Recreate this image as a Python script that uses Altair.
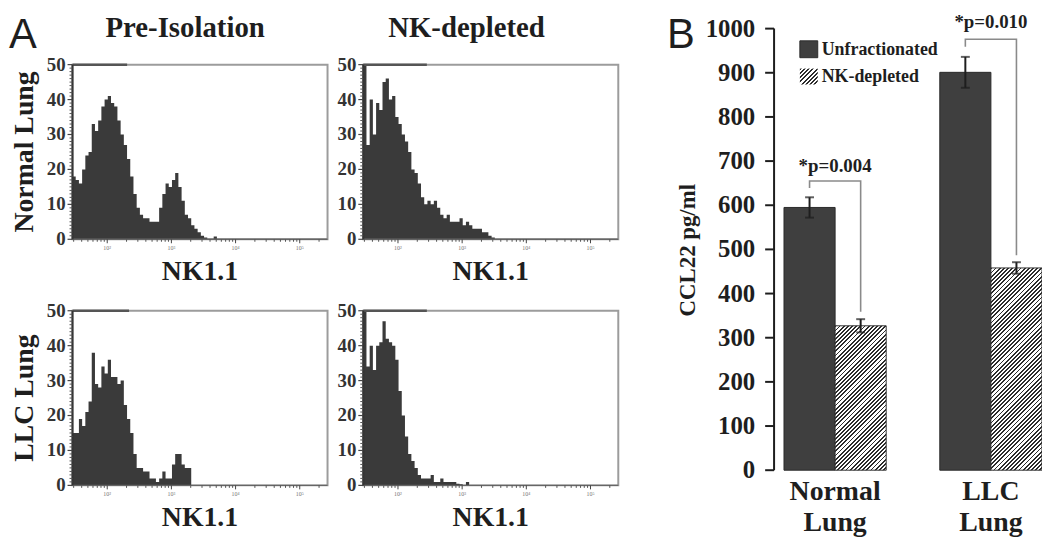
import altair as alt
import pandas as pd

# ------------------------------------------------------------------ data
# Panel A: NK1.1 flow histograms (events per bin). Bins are 0.05 decade wide,
# starting at the left edge of the NK1.1 axis.
NK_LOG_START = 1.459
NK_LOG_END = 5.433
NK_BIN_DECADES = 0.05

normal_pre_isolation = [18, 17, 16, 20, 24, 25, 33, 31, 34, 38, 40, 41, 39, 38, 34, 30,
                        27, 23, 18, 13, 9, 7, 6, 6, 5, 5, 5, 9, 13, 16, 15, 17, 19, 15,
                        11, 7, 6, 4, 3, 2, 1, 0.5, 0, 0, 0.8, 0]
normal_nk_depleted = [50, 27, 40, 30, 39, 37, 45, 46, 40, 41, 35, 33, 30, 28, 25, 20,
                      19, 16, 12, 10, 11, 10, 11, 9, 7, 6, 7, 5, 5, 5, 6, 4, 5, 4, 3,
                      3, 3, 2, 2, 1, 0.5, 0]
llc_pre_isolation = [15, 15, 19, 17, 21, 24, 38, 29, 28, 34, 32, 36, 31, 31, 29, 30,
                     23, 19, 15, 9, 5, 5, 4, 4, 2, 2, 1, 2, 4, 2, 2, 6, 9, 9, 6, 5, 5, 0]
llc_nk_depleted = [50, 34, 40, 33, 40, 41, 47, 42, 41, 40, 36, 27, 20, 14, 9, 7, 5, 3,
                   2, 2, 2, 3, 1, 1, 2, 1, 1, 1, 1, 0.5, 0.3, 0, 1, 0]
# dark marker along the top edge of each histogram frame (log10 NK1.1 end)
top_marker_end = [2.31, 2.45, 2.34, 2.45]

nk_ticks = [30, 40, 50, 60, 70, 80, 90,
            100, 200, 300, 400, 500, 600, 700, 800, 900,
            1000, 2000, 3000, 4000, 5000, 6000, 7000, 8000, 9000,
            10000, 20000, 30000, 40000, 50000, 60000, 70000, 80000, 90000,
            100000, 200000]
nk_major_ticks = [100, 1000, 10000, 100000]
nk_major_labels = ["10²", "10³", "10⁴", "10⁵"]
events_ticks = list(range(0, 51))
events_major = [0, 10, 20, 30, 40, 50]

col_titles = ["Pre-Isolation", "NK-depleted"]
row_titles = ["Normal Lung", "LLC Lung"]
x_title_a = "NK1.1"

# Panel B: CCL22 (pg/ml)
groups = ["Normal Lung", "LLC Lung"]
series = ["Unfractionated", "NK-depleted"]
ccl22_unfractionated = [595, 901]
ccl22_nk_depleted = [327, 458]
sem_unfractionated = [23, 35]
sem_nk_depleted = [15, 13]
bracket_top = [655, 976]
bracket_left_end = [639, 959]
bracket_right_end = [359, 487]
p_text = ["*p=0.004", "*p=0.010"]
p_text_y = [689, 1015]
ccl22_ticks = list(range(0, 1001, 100))
y_title_b = "CCL22 pg/ml"

# ------------------------------------------------------------------ style / layout
W, H = 1042, 536
SERIF = "Liberation Serif"
SANS = "Liberation Sans"
INK = "#1e1e1e"
HIST_FILL = "#3a3a3a"
BAR_DARK = "#3f3f3f"
FRAME = "#9c9c9c"

HIST_X = [(65, 322), (358, 615)]
HIST_Y = [(231, 55), (479, 303)]
B_X_RANGE = [772, 1052]
B_Y_RANGE = [463.7, 18.7]
B_PAD_INNER = 0.344
B_PAD_OUTER = 0.0637

one = pd.DataFrame({"k": [0]})


def hatch(w, h, period=4.2, frac=0.45, dark="#2c2c2c", light="#ffffff"):
    r = h / w
    total = w * (1 + r * r)
    dt = period / total
    t_end = (w + h) / total + dt
    stops = []
    k = 0
    while k * dt <= min(t_end, 1.0):
        t0 = k * dt
        t1 = min(t0 + frac * dt, 1.0)
        t2 = min(t0 + dt, 1.0)
        stops += [(t0, dark), (t1, dark), (t1, light), (t2, light)]
        k += 1
    return {"gradient": "linear", "x1": 0, "y1": 0, "x2": 1, "y2": r,
            "stops": [{"offset": round(o, 6), "color": c} for o, c in stops]}


def text_at(text, x, y, size, font=SERIF, weight="bold", align="center",
            baseline="alphabetic", angle=0, color=INK):
    return alt.Chart(one).mark_text(text=text, font=font, fontSize=size, fontWeight=weight,
                                    align=align, baseline=baseline, angle=angle,
                                    color=color).encode(x=alt.value(x), y=alt.value(y))


def hist_panel(counts, col, row, marker_end):
    x0, x1 = HIST_X[col]
    yb, yt = HIST_Y[row]
    xmin, xmax = 10 ** NK_LOG_START, 10 ** NK_LOG_END
    edges = [10 ** (NK_LOG_START + NK_BIN_DECADES * i) for i in range(len(counts) + 1)]
    df = pd.DataFrame({"nk": edges, "events": list(counts) + [0]})
    xs = alt.Scale(type="log", domain=[xmin, xmax], range=[x0, x1], nice=False)
    ys = alt.Scale(domain=[0, 50], range=[yb, yt], nice=False, zero=True)

    def X(f):
        return alt.X(f, scale=xs, axis=None)

    def Y(f):
        return alt.Y(f, scale=ys, axis=None)

    frame_df = pd.DataFrame({"x": [xmin], "x2": [xmax], "y": [0], "y2": [50]})
    frame = alt.Chart(frame_df).mark_rect(fillOpacity=0, stroke=FRAME, strokeWidth=2).encode(
        x=X("x:Q"), x2="x2:Q", y=Y("y:Q"), y2="y2:Q")
    area = alt.Chart(df).mark_area(interpolate="step-after", color=HIST_FILL).encode(
        x=X("nk:Q"), y=Y("events:Q"))
    marker_df = pd.DataFrame({"x": [xmin], "x2": [10 ** marker_end], "y": [50]})
    marker = alt.Chart(marker_df).mark_rule(color="#555555", strokeWidth=2.5).encode(
        x=X("x:Q"), x2="x2:Q", y=Y("y:Q"))

    # y "axis": domain, ticks, labels
    ydom = alt.Chart(frame_df).mark_rule(color="#333333", strokeWidth=2).encode(
        x=X("x:Q"), y=Y("y:Q"), y2="y2:Q")
    yt_df = pd.DataFrame({"v": events_ticks, "x": xmin,
                          "major": [v in events_major for v in events_ticks],
                          "lab": [str(v) for v in events_ticks]})
    ytick_minor = alt.Chart(yt_df).transform_filter("!datum.major").mark_rule(
        color="#555555", strokeWidth=1, x2Offset=-3).encode(x=X("x:Q"), x2="x:Q", y=Y("v:Q"))
    ytick_major = alt.Chart(yt_df).transform_filter("datum.major").mark_rule(
        color="#444444", strokeWidth=1.2, x2Offset=-5).encode(x=X("x:Q"), x2="x:Q", y=Y("v:Q"))
    ylab = alt.Chart(yt_df).transform_filter("datum.major").mark_text(
        font=SERIF, fontWeight="bold", fontSize=19, color="#333333", align="right",
        baseline="middle", dx=-7).encode(x=X("x:Q"), y=Y("v:Q"), text="lab:N")

    # x "axis": domain, ticks, tiny decade labels
    xt_df = pd.DataFrame({"v": nk_ticks, "y0": 0,
                          "major": [v in nk_major_ticks for v in nk_ticks],
                          "lab": [nk_major_labels[nk_major_ticks.index(v)] if v in nk_major_ticks else ""
                                  for v in nk_ticks]})
    xdom = alt.Chart(frame_df).mark_rule(color="#666666", strokeWidth=1.5).encode(
        x=X("x:Q"), x2="x2:Q", y=Y("y:Q"))
    xtick_minor = alt.Chart(xt_df).transform_filter("!datum.major").mark_rule(
        color="#555555", strokeWidth=1, y2Offset=2.5).encode(x=X("v:Q"), y=Y("y0:Q"), y2="y0:Q")
    xtick_major = alt.Chart(xt_df).transform_filter("datum.major").mark_rule(
        color="#444444", strokeWidth=1, y2Offset=4).encode(x=X("v:Q"), y=Y("y0:Q"), y2="y0:Q")
    xlab = alt.Chart(xt_df).transform_filter("datum.major").mark_text(
        font=SERIF, fontSize=6, color="#777777", align="center", baseline="top", dy=6).encode(
        x=X("v:Q"), y=Y("y0:Q"), text="lab:N")

    layers = [frame, area, marker, xdom, ydom, ytick_minor, ytick_major, ylab,
              xtick_minor, xtick_major, xlab]
    panel = alt.layer(*layers)
    extras = [text_at(x_title_a, (x0 + x1) / 2, yb + 41, 28)]
    if col == 0:
        extras.append(text_at(row_titles[row], 25, (yb + yt) / 2, 28, angle=270))
    return panel, extras


panels_a = []
extra_text = []
for counts, col, row, me in [(normal_pre_isolation, 0, 0, top_marker_end[0]),
                             (normal_nk_depleted, 1, 0, top_marker_end[1]),
                             (llc_pre_isolation, 0, 1, top_marker_end[2]),
                             (llc_nk_depleted, 1, 1, top_marker_end[3])]:
    p, e = hist_panel(counts, col, row, me)
    panels_a.append(p)
    extra_text += e

# ------------------------------------------------------------------ panel B
b_df = pd.DataFrame({
    "group": groups * 2,
    "series": [series[0]] * 2 + [series[1]] * 2,
    "value": ccl22_unfractionated + ccl22_nk_depleted,
    "sem": sem_unfractionated + sem_nk_depleted,
})
b_df["lo"] = b_df["value"] - b_df["sem"]
b_df["hi"] = b_df["value"] + b_df["sem"]

bx = alt.Scale(domain=groups, range=B_X_RANGE, paddingInner=B_PAD_INNER, paddingOuter=B_PAD_OUTER)
by = alt.Scale(domain=[0, 1000], range=B_Y_RANGE, nice=False, zero=True)
boff = alt.Scale(domain=series, paddingInner=0, paddingOuter=0)

step = (B_X_RANGE[1] - B_X_RANGE[0]) / (len(groups) - B_PAD_INNER + 2 * B_PAD_OUTER)
sub_w = step * (1 - B_PAD_INNER) / len(series)
px_per_unit = (B_Y_RANGE[0] - B_Y_RANGE[1]) / 1000.0


def BX(f="group:N"):
    return alt.X(f, scale=bx, axis=None)


def BY(f):
    return alt.Y(f, scale=by, axis=None)


def BOFF():
    return alt.XOffset("series:N", scale=boff)


bars_dark = alt.Chart(b_df).transform_filter(alt.datum.series == series[0]).mark_bar(
    fill=BAR_DARK, stroke="#2a2a2a", strokeWidth=1).encode(
    x=BX(), xOffset=BOFF(), y=BY("value:Q"))

hatched_layers = []
for g, v in zip(groups, ccl22_nk_depleted):
    hatched_layers.append(
        alt.Chart(b_df).transform_filter(
            (alt.datum.series == series[1]) & (alt.datum.group == g)).mark_bar(
            fill=hatch(sub_w, v * px_per_unit), stroke="#333333", strokeWidth=1).encode(
            x=BX(), xOffset=BOFF(), y=BY("value:Q")))

err_base = alt.Chart(b_df).encode(x=BX(), xOffset=BOFF())
err_rule = err_base.mark_rule(color=INK, strokeWidth=2).encode(y=BY("lo:Q"), y2="hi:Q")
cap_hi = err_base.mark_tick(color=INK, thickness=2, size=9, orient="horizontal").encode(y=BY("hi:Q"))
cap_lo = err_base.mark_tick(color=INK, thickness=2, size=9, orient="horizontal").encode(y=BY("lo:Q"))

br_rows = []
for i, g in enumerate(groups):
    br_rows += [
        {"group": g, "series": series[0], "y": bracket_left_end[i], "step": 0},
        {"group": g, "series": series[0], "y": bracket_top[i], "step": 1},
        {"group": g, "series": series[1], "y": bracket_top[i], "step": 2},
        {"group": g, "series": series[1], "y": bracket_right_end[i], "step": 3},
    ]
br_df = pd.DataFrame(br_rows)
brackets = alt.Chart(br_df).mark_line(color="#8a8a8a", strokeWidth=1.6).encode(
    x=BX(), xOffset=BOFF(), y=BY("y:Q"), detail="group:N", order="step:Q")

p_df = pd.DataFrame({"group": groups, "label": p_text, "y": p_text_y})
p_labels = alt.Chart(p_df).mark_text(font=SERIF, fontWeight="bold", fontSize=19, color=INK,
                                     baseline="middle").encode(
    x=BX(), y=BY("y:Q"), text="label:N")

# y axis of panel B (ticks and labels placed through the y scale)
yt_b = pd.DataFrame({"v": ccl22_ticks, "lab": [str(v) for v in ccl22_ticks]})
ydom_b = alt.Chart(pd.DataFrame({"a": [0], "b": [1000]})).mark_rule(
    color=INK, strokeWidth=2).encode(x=alt.value(B_X_RANGE[0]), y=BY("a:Q"), y2="b:Q")
ytick_b = alt.Chart(yt_b).mark_rule(color=INK, strokeWidth=2).encode(
    x=alt.value(B_X_RANGE[0] - 9), x2=alt.value(B_X_RANGE[0]), y=BY("v:Q"))
ylab_b = alt.Chart(yt_b).mark_text(font=SERIF, fontWeight="bold", fontSize=25, color=INK,
                                   align="right", baseline="middle").encode(
    x=alt.value(B_X_RANGE[0] - 19), y=BY("v:Q"), text="lab:N")

# category labels (two lines) under each group
cat_df = pd.DataFrame({"group": groups, "zero": 0,
                       "l1": [g.split(" ")[0] for g in groups],
                       "l2": [g.split(" ")[1] for g in groups]})
cat1 = alt.Chart(cat_df).mark_text(font=SERIF, fontWeight="bold", fontSize=28, color=INK,
                                   baseline="alphabetic", dy=30).encode(
    x=BX(), y=BY("zero:Q"), text="l1:N")
cat2 = alt.Chart(cat_df).mark_text(font=SERIF, fontWeight="bold", fontSize=28, color=INK,
                                   baseline="alphabetic", dy=61).encode(
    x=BX(), y=BY("zero:Q"), text="l2:N")

panel_b = alt.layer(bars_dark, *hatched_layers, brackets, err_rule, cap_hi, cap_lo, p_labels,
                    ydom_b, ytick_b, ylab_b, cat1, cat2)

# ------------------------------------------------------------------ free text & legend
texts = [
    text_at("A", 1, 38, 42, font=SANS, weight="normal", align="left"),
    text_at("B", 664, 38, 42, font=SANS, weight="normal", align="left"),
    text_at(col_titles[0], 178.5, 27, 29),
    text_at(col_titles[1], 462, 27, 29),
    text_at(y_title_b, 692, 242, 23, angle=270),
] + extra_text

leg_dark = alt.Chart(one).mark_rect(fill=BAR_DARK, stroke="#2a2a2a", strokeWidth=1).encode(
    x=alt.value(798), x2=alt.value(816), y=alt.value(31), y2=alt.value(48))
leg_hatch = alt.Chart(one).mark_rect(fill=hatch(18, 16), strokeWidth=0).encode(
    x=alt.value(798), x2=alt.value(816), y=alt.value(59), y2=alt.value(75))
leg_t1 = text_at(series[0], 820, 40, 18, align="left", baseline="middle")
leg_t2 = text_at(series[1], 820, 67, 18, align="left", baseline="middle")

chart = alt.layer(*panels_a, panel_b, *texts, leg_dark, leg_hatch, leg_t1, leg_t2).resolve_scale(
    x="independent", y="independent").properties(
    width=W, height=H, autosize=alt.AutoSizeParams(type="none"), padding=0).configure_view(strokeWidth=0)

chart.save("out.html", embed_options={"renderer": "svg", "actions": False})
